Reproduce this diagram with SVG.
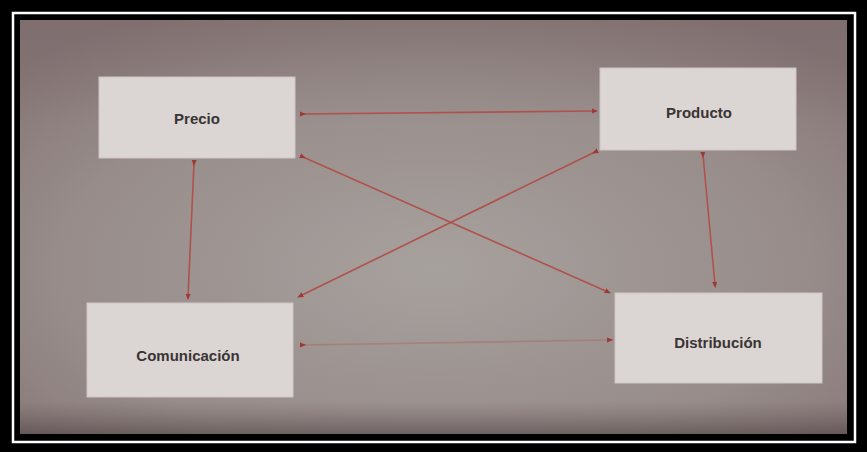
<svg xmlns="http://www.w3.org/2000/svg" width="867" height="452" viewBox="0 0 867 452">
<defs>
<radialGradient id="bg" cx="0.5" cy="0.6" r="0.7">
<stop offset="0" stop-color="#a7a19e"/>
<stop offset="0.65" stop-color="#978c8a"/>
<stop offset="1" stop-color="#857575"/>
</radialGradient>
<linearGradient id="shade" x1="0" y1="0" x2="0" y2="1">
<stop offset="0" stop-color="#6e5a5c" stop-opacity="0.25"/>
<stop offset="0.25" stop-color="#6e5a5c" stop-opacity="0"/>
<stop offset="0.92" stop-color="#5a4a4a" stop-opacity="0"/>
<stop offset="1" stop-color="#3a2e2e" stop-opacity="0.45"/>
</linearGradient>
<marker id="dot" viewBox="0 0 10 10" refX="5" refY="5" markerWidth="4" markerHeight="4" orient="auto">
<path d="M0,1 L10,5 L0,9 z" fill="#9e3a36"/>
</marker>
<style>
.card{fill:#dbd5d3;stroke:#cfc6c4;stroke-width:1}
.lbl{font-family:"Liberation Sans",Arial,sans-serif;font-size:15px;font-weight:bold;fill:#3a3434;text-anchor:middle;dominant-baseline:central}
.con{stroke:#b0524c;stroke-width:1.6;fill:none;marker-start:url(#dot);marker-end:url(#dot)}
</style>
</defs>
<rect x="0" y="0" width="867" height="452" fill="#000"/>
<rect x="13" y="13" width="842" height="429" fill="none" stroke="#ffffff" stroke-width="2.5"/>
<rect x="20" y="20" width="827" height="414" fill="url(#bg)"/>
<rect x="20" y="20" width="827" height="414" fill="url(#shade)"/>
<g id="connectors">
<line class="con" x1="303" y1="114" x2="595" y2="111"/>
<line class="con" x1="194" y1="163" x2="188" y2="297"/>
<line class="con" x1="703" y1="155" x2="715" y2="285"/>
<line class="con" x1="303" y1="157" x2="608" y2="292"/>
<line class="con" x1="595" y1="152" x2="300" y2="296"/>
<line class="con" x1="303" y1="345" x2="610" y2="340" stroke-opacity="0.35"/>
</g>
<g id="precio">
<rect class="card" x="99" y="77" width="196" height="81"/>
<text class="lbl" x="197" y="118">Precio</text>
</g>
<g id="producto">
<rect class="card" x="600" y="68" width="196" height="82"/>
<text class="lbl" x="699" y="112">Producto</text>
</g>
<g id="comunicacion">
<rect class="card" x="87" y="303" width="206" height="94"/>
<text class="lbl" x="188" y="355">Comunicación</text>
</g>
<g id="distribucion">
<rect class="card" x="615" y="293" width="207" height="90"/>
<text class="lbl" x="718" y="342">Distribución</text>
</g>
</svg>
